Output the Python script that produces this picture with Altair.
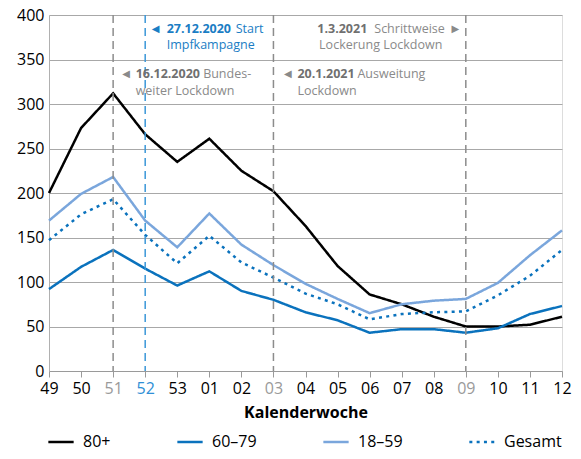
import altair as alt
import pandas as pd

weeks = ["49", "50", "51", "52", "53", "01", "02", "03", "04", "05", "06",
         "07", "08", "09", "10", "11", "12"]
series_names = ["80+", "60–79", "18–59", "Gesamt"]
s80 = [200, 273, 312, 266, 235, 261, 225, 202, 163, 118, 86, 75, 61, 50, 50, 52, 61]
s6079 = [92, 117, 136, 115, 96, 112, 90, 80, 66, 57, 43, 47, 47, 43, 48, 64, 73]
s1859 = [169, 199, 218, 169, 139, 177, 142, 119, 98, 81, 65, 75, 79, 81, 99, 130, 158]
gesamt = [147, 176, 193, 153, 121, 152, 122, 105, 87, 75, 58, 64, 66, 67, 85, 107, 136]

gray_rule_weeks = ["51", "03", "09"]
blue_rule_weeks = ["52"]

ann_weeks = ["51", "52", "03", "09"]
ann_dates = ["16.12.2020", "27.12.2020", "20.1.2021", "1.3.2021"]
ann_line1 = ["Bundes-", "Start", "Ausweitung", "Schrittweise"]
ann_line2 = ["weiter Lockdown", "Impfkampagne", "Lockdown", "Lockerung Lockdown"]
ann_y1 = [334, 384, 334, 384]
ann_y2 = [315, 366, 315, 366]

FONT = "Open Sans"
GRAY_TXT = "#8a8a8a"
GRAY_BOLD = "#707070"
BLUE_TXT = "#1a7dc4"

widx = {w: i for i, w in enumerate(weeks)}

rows = []
for name, vals in zip(series_names, [s80, s6079, s1859, gesamt]):
    for w, v in zip(weeks, vals):
        rows.append({"idx": widx[w], "Woche": w, "Serie": name, "Wert": v})
df = pd.DataFrame(rows)

xscale = alt.Scale(domain=[0, len(weeks) - 1], nice=False, zero=False)
weeks_js = "[" + ",".join("'" + w + "'" for w in weeks) + "]"
label_expr = weeks_js + "[datum.value]"
label_color_expr = ("datum.value == 3 ? '#2f8fd6' : "
                    "(datum.value == 2 || datum.value == 7 || datum.value == 13) ? '#9a9a9a' : '#000000'")

x_axis = alt.Axis(title="Kalenderwoche", titleFontSize=16, titleFontWeight="bold",
                  titleFont=FONT, titleColor="#000", titlePadding=8,
                  values=list(range(len(weeks))), labelExpr=label_expr,
                  labelAngle=0, labelFontSize=16, labelFont=FONT,
                  labelColor={"expr": label_color_expr}, labelPadding=3,
                  tickColor="#9a9a9a", tickSize=6, domainColor="#9a9a9a",
                  grid=False, labelOverlap=False, labelFlush=False)
y_axis = alt.Axis(title=None, values=list(range(0, 401, 50)), grid=True,
                  gridColor="#a8a8a8", ticks=False, domainColor="#b0b0b0",
                  labelFontSize=16, labelFont=FONT, labelColor="#000",
                  labelPadding=5, labelFlush=False, labelOverlap=False)


def xe():
    return alt.X("idx:Q", scale=xscale, axis=x_axis)


def ye():
    return alt.Y("Wert:Q", scale=alt.Scale(domain=[0, 400], nice=False), axis=y_axis)


legend = alt.Legend(title=None, orient="none", legendX=-2, legendY=413, direction="horizontal",
                    columns=4, gridAlign="none", columnPadding=61, symbolType="stroke",
                    symbolSize=640, labelFontSize=16, labelFont=FONT,
                    labelColor="#000", labelOffset=8)

lines = alt.Chart(df).mark_line(strokeCap="butt").encode(
    x=xe(),
    y=ye(),
    color=alt.Color("Serie:N", sort=series_names,
                    scale=alt.Scale(domain=series_names,
                                    range=["#000000", "#0a72bd", "#7aa6dc", "#0a72bd"]),
                    legend=legend),
    strokeDash=alt.StrokeDash("Serie:N", sort=series_names,
                              scale=alt.Scale(domain=series_names,
                                              range=[[1, 0], [1, 0], [1, 0], [3, 4.3]]),
                              legend=legend),
    strokeWidth=alt.StrokeWidth("Serie:N", sort=series_names,
                                scale=alt.Scale(domain=series_names, range=[2.5, 2.5, 2.5, 3.5]),
                                legend=legend),
    order=alt.Order("idx:Q", sort="ascending"),
)

rules_gray = alt.Chart(pd.DataFrame({"idx": [widx[w] for w in gray_rule_weeks]})).mark_rule(
    color="#8c8c8c", strokeDash=[8, 5], strokeWidth=1.5).encode(x=xe())
rules_blue = alt.Chart(pd.DataFrame({"idx": [widx[w] for w in blue_rule_weeks]})).mark_rule(
    color="#3b97d8", strokeDash=[8, 5], strokeWidth=1.5).encode(x=xe())

layers = [lines, rules_gray, rules_blue]

# offsets per annotation: (arrow_dx, bold_dx, reg_dx, line2_dx, align, color_reg, color_bold, arrow)
styles = [
    (9, 22.5, 90, 22.5, "left", GRAY_TXT, GRAY_BOLD, "◀"),
    (6.5, 21.5, 90.5, 21.5, "left", BLUE_TXT, BLUE_TXT, "◀"),
    (10.5, 24, 84, 24, "left", GRAY_TXT, GRAY_BOLD, "◀"),
    (-6.5, -98.5, -21, -23.5, "right", GRAY_TXT, GRAY_BOLD, "▶"),
]

for i, st in enumerate(styles):
    adx, bdx, rdx, l2dx, align, creg, cbold, arrow = st
    d1 = pd.DataFrame({"idx": [widx[ann_weeks[i]]], "Wert": [ann_y1[i]], "t": [ann_dates[i]],
                       "r": [ann_line1[i]], "a": [arrow]})
    d2 = pd.DataFrame({"idx": [widx[ann_weeks[i]]], "Wert": [ann_y2[i]], "t": [ann_line2[i]]})
    layers.append(alt.Chart(d1).mark_text(align=align, baseline="middle", dx=adx, font="DejaVu Sans",
                                          fontSize=10, color=creg).encode(text="a:N", x=xe(), y=ye()))
    layers.append(alt.Chart(d1).mark_text(align=align, baseline="middle", dx=bdx, font=FONT,
                                          fontSize=12.5, fontWeight="bold", color=cbold).encode(text="t:N", x=xe(), y=ye()))
    layers.append(alt.Chart(d1).mark_text(align=align, baseline="middle", dx=rdx, font=FONT,
                                          fontSize=12.5, color=creg).encode(text="r:N", x=xe(), y=ye()))
    layers.append(alt.Chart(d2).mark_text(align=align, baseline="middle", dx=l2dx, font=FONT,
                                          fontSize=12.5, color=creg).encode(text="t:N", x=xe(), y=ye()))

chart = alt.layer(*layers).properties(
    width=513, height=356,
    autosize=alt.AutoSizeParams(type="none"),
    padding={"left": 41, "top": 7, "right": 11, "bottom": 80},
).configure_view(stroke=None).configure(background="white")

chart.save("out.html", embed_options={"renderer": "svg", "actions": False})
